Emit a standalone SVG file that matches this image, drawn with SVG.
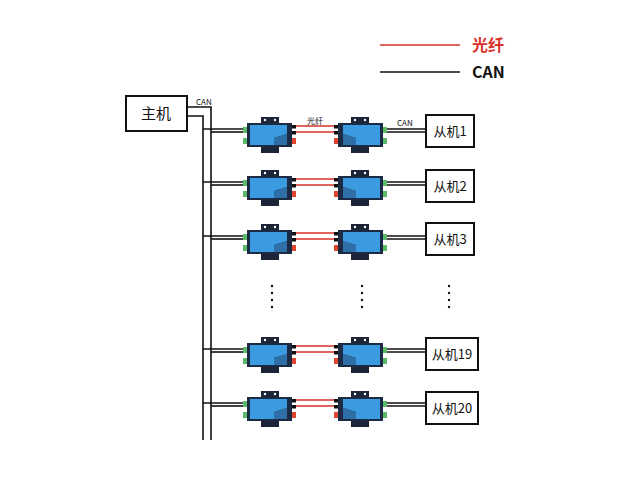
<svg xmlns="http://www.w3.org/2000/svg" width="640" height="480" viewBox="0 0 640 480">
<style>
.bk{stroke:#111;stroke-width:1.6;fill:none}
.rd{stroke:#d9302a;stroke-width:1.6;fill:none}
.box{fill:#fff;stroke:#111;stroke-width:2}
.t{font-family:"Noto Sans CJK SC","Liberation Sans",sans-serif;fill:#111}
</style>
<defs>
<g id="dev">
<rect x="14" y="-6" width="18" height="30" fill="#1c2538"/>
<rect x="0" y="0" width="45" height="24" fill="#1c2a44"/>
<polygon points="3,2 40,2 40,11 27,15 27,22 3,22" fill="#3b9be0"/>
<polygon points="27,15 40,11 40,22 27,22" fill="#2f6fa8"/>
<circle cx="18" cy="-3" r="1.2" fill="#fff"/><circle cx="28" cy="-3" r="1.2" fill="#fff"/>
<circle cx="18" cy="27" r="1.2" fill="#fff"/><circle cx="28" cy="27" r="1.2" fill="#fff"/>
<rect x="14" y="24" width="18" height="6" fill="#1c2538"/>
<rect x="-4" y="4" width="4" height="6" fill="#5cb86a"/>
<rect x="-4" y="15" width="4" height="6" fill="#5cb86a"/>
<rect x="45" y="2" width="4" height="3.5" fill="#111"/>
<rect x="45" y="8" width="4" height="3.5" fill="#111"/>
<rect x="45" y="15" width="4" height="6" fill="#e0452f"/>
</g>
</defs>
<line x1="380" y1="45" x2="460" y2="45" class="rd"/>
<text x="472" y="51" class="t" font-size="16" font-weight="bold" fill="#d9302a" style="fill:#d9302a">光纤</text>
<line x1="380" y1="72" x2="460" y2="72" class="bk"/>
<text x="472" y="78" class="t" font-size="16" font-weight="bold">CAN</text>
<g id="host"><rect x="126" y="96" width="61" height="35" class="box"/><text x="156" y="119" class="t" font-size="15" text-anchor="middle">主机</text></g>
<text x="196" y="105" class="t" font-size="8">CAN</text>
<g id="connectors">
<polyline points="187,107 211,107 211,440" class="bk"/>
<polyline points="187,116 203,116 203,440" class="bk"/>
<g id="r1" transform="translate(0,134)">
<line x1="203" y1="-5" x2="243" y2="-5" class="bk"/><line x1="211" y1="-2" x2="243" y2="-2" class="bk"/>
<line x1="296" y1="-8" x2="334" y2="-8" class="rd"/><line x1="296" y1="-2" x2="334" y2="-2" class="rd"/>
<line x1="387" y1="-5" x2="426" y2="-5" class="bk"/><line x1="387" y1="-2" x2="426" y2="-2" class="bk"/>
</g>
<use href="#r1" transform="translate(0,53)"/>
<use href="#r1" transform="translate(0,107)"/>
<use href="#r1" transform="translate(0,220)"/>
<use href="#r1" transform="translate(0,274)"/>
</g>
<text x="307" y="124" class="t" font-size="8">光纤</text>
<text x="397" y="126" class="t" font-size="8">CAN</text>
<g id="devices">
<use href="#dev" transform="translate(247,123)"/><use href="#dev" transform="translate(383,123) scale(-1,1)"/>
<use href="#dev" transform="translate(247,176)"/><use href="#dev" transform="translate(383,176) scale(-1,1)"/>
<use href="#dev" transform="translate(247,230)"/><use href="#dev" transform="translate(383,230) scale(-1,1)"/>
<use href="#dev" transform="translate(247,343)"/><use href="#dev" transform="translate(383,343) scale(-1,1)"/>
<use href="#dev" transform="translate(247,397)"/><use href="#dev" transform="translate(383,397) scale(-1,1)"/>
</g>
<g id="s1"><rect x="426" y="115" width="48" height="32" class="box"/><text x="450" y="136" class="t" font-size="13" text-anchor="middle">从机1</text></g>
<g id="s2"><rect x="426" y="170" width="48" height="32" class="box"/><text x="450" y="191" class="t" font-size="13" text-anchor="middle">从机2</text></g>
<g id="s3"><rect x="426" y="223" width="48" height="32" class="box"/><text x="450" y="244" class="t" font-size="13" text-anchor="middle">从机3</text></g>
<g id="s19"><rect x="426" y="338" width="52" height="32" class="box"/><text x="452" y="359" class="t" font-size="13" text-anchor="middle">从机19</text></g>
<g id="s20"><rect x="426" y="392" width="52" height="32" class="box"/><text x="452" y="413" class="t" font-size="13" text-anchor="middle">从机20</text></g>
<g fill="#111">
<circle cx="272" cy="286" r="1.2"/><circle cx="272" cy="293" r="1.2"/><circle cx="272" cy="300" r="1.2"/><circle cx="272" cy="307" r="1.2"/>
<circle cx="362" cy="286" r="1.2"/><circle cx="362" cy="293" r="1.2"/><circle cx="362" cy="300" r="1.2"/><circle cx="362" cy="307" r="1.2"/>
<circle cx="449" cy="286" r="1.2"/><circle cx="449" cy="293" r="1.2"/><circle cx="449" cy="300" r="1.2"/><circle cx="449" cy="307" r="1.2"/>
</g>
</svg>
